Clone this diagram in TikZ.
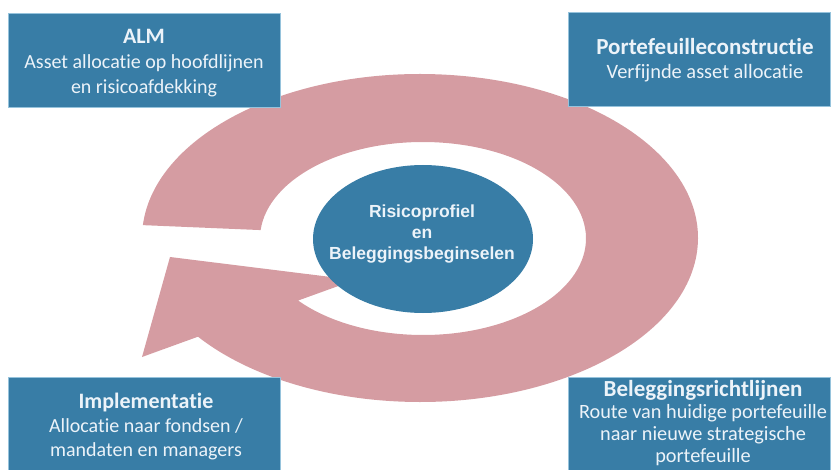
\documentclass[tikz,border=0pt]{standalone}
\usepackage{fontspec}
\setmainfont{Carlito}[Ligatures=NoCommon]
\newfontfamily\arialfont{Liberation Sans}
\usetikzlibrary{shapes.geometric,calc}
\definecolor{boxblue}{RGB}{56,125,166}
\definecolor{boxedge}{RGB}{150,195,220}
\definecolor{ringpink}{RGB}{213,156,162}
\definecolor{txt}{RGB}{236,243,249}
\begin{document}
\begin{tikzpicture}[x=1pt,y=1pt,
  box/.style={fill=boxblue, draw=boxedge, line width=1pt, minimum width=272pt, minimum height=94pt, inner sep=0pt},
  boxtext/.style={text=txt, align=center, font=\fontsize{20}{25}\selectfont, inner sep=0pt},
  ]
\useasboundingbox (0,0) rectangle (832,469);
\clip (0,0) rectangle (832,469);
% circular arrow
\fill[ringpink] ($(420,231)+(175.5:278pt and 164pt)$)
  arc[start angle=175.5, end angle=-143, x radius=278pt, y radius=164pt]
  -- (142,112) -- (170,212) -- (355,189)
  -- ($(423,230.5)+(-140:163pt and 96.5pt)$)
  arc[start angle=-140, end angle=175, x radius=163pt, y radius=96.5pt]
  -- cycle;
% centre
\node[ellipse, fill=boxblue, minimum width=220pt, minimum height=148pt, inner sep=0pt] (core) at (423,230) {};
\node[text=txt, align=center, inner sep=0pt, font=\arialfont\bfseries\fontsize{17.5}{21}\selectfont] (coretext) at (422,235) {Risicoprofiel\\en\\Beleggingsbeginselen};
% boxes
\node[box, anchor=north west] (almbox) at (8,456) {};
\node[box, anchor=north west, minimum width=262pt] (pcbox) at (568,457) {};
\node[box, anchor=north west, minimum height=100pt] (imbox) at (8,92) {};
\node[box, anchor=north west, minimum width=262pt, minimum height=100pt] (brbox) at (568,92) {};
% box texts
\node[boxtext] (almtext) at (144,406) {{\fontsize{22}{25}\selectfont\bfseries ALM}\\Asset allocatie op hoofdlijnen\\en risicoafdekking};
\node[boxtext, font=\fontsize{20.4}{24}\selectfont] (pctext) at (705,409) {{\fontsize{23}{24}\selectfont\bfseries Portefeuilleconstructie}\\Verfijnde asset allocatie};
\node[boxtext, font=\fontsize{20}{24}\selectfont] (imtext) at (146,43) {{\fontsize{22}{24}\selectfont\bfseries Implementatie}\\Allocatie naar fondsen /\\mandaten en managers};
\node[boxtext, font=\fontsize{20.3}{22}\selectfont] (brtext) at (703,46) {{\fontsize{23}{22}\selectfont\bfseries Beleggingsrichtlijnen}\\Route van huidige portefeuille\\naar nieuwe strategische\\portefeuille};
\end{tikzpicture}
\end{document}
